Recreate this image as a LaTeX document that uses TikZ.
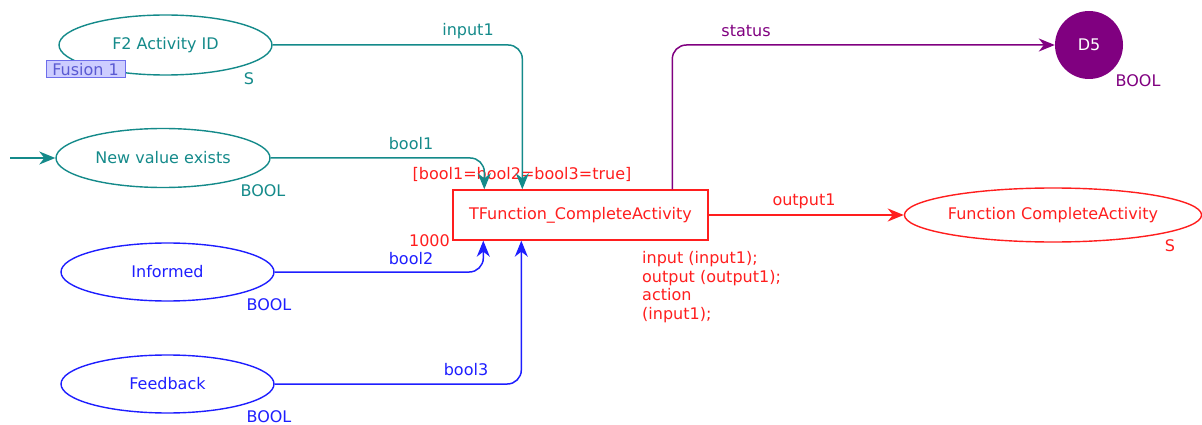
\documentclass[tikz,border=0pt]{standalone}
\usepackage{fontspec}
\setmainfont{DejaVu Sans}
\usetikzlibrary{shapes.geometric,arrows.meta,calc}
\definecolor{cteal}{RGB}{20,138,138}
\definecolor{cblue}{RGB}{30,30,255}
\definecolor{cred}{RGB}{255,30,30}
\definecolor{cpurp}{RGB}{128,0,128}
\definecolor{fusfill}{RGB}{205,205,255}
\definecolor{fusdraw}{RGB}{110,110,235}
\definecolor{fustext}{RGB}{90,90,210}
\begin{document}
\begin{tikzpicture}[x=1pt,y=-1pt,
  place/.style={ellipse,draw,line width=1.4pt,inner sep=0pt,font=\fontsize{16}{19}\selectfont},
  lbl/.style={inner sep=0pt,font=\fontsize{16}{19}\selectfont},
  arc/.style={line width=1.5pt,rounded corners=14pt,-{Stealth[length=16pt,width=13pt,inset=5pt]}},
  plain/.style={line width=1.5pt,rounded corners=14pt}]
\useasboundingbox (0,0) rectangle (1202,425);
% places
\node[place,cteal,minimum width=213pt,minimum height=60pt] (f2) at (165.5,45) {F2 Activity ID};
\node[draw=fusdraw,fill=fusfill,line width=1pt,inner xsep=2pt,inner ysep=0pt,minimum width=79pt,minimum height=17pt,text=fustext,font=\fontsize{16}{19}\selectfont] (fus) at (85.5,69.5) {Fusion 1};
\node[lbl,cteal] (f2t) at (249,79) {S};
\node[place,cteal,minimum width=214pt,minimum height=59pt] (nv) at (163,158) {New value exists};
\node[lbl,cteal] (nvt) at (263,191) {BOOL};
\node[place,cblue,minimum width=213pt,minimum height=58pt] (inf) at (167.5,272) {Informed};
\node[lbl,cblue] (inft) at (269,305) {BOOL};
\node[place,cblue,minimum width=213pt,minimum height=58pt] (fb) at (167.5,384) {Feedback};
\node[lbl,cblue] (fbt) at (269,416.5) {BOOL};
\node[place,cred,minimum width=297pt,minimum height=54pt] (fc) at (1053,215) {Function CompleteActivity};
\node[lbl,cred] (fct) at (1170,246) {S};
\node[circle,fill=cpurp,minimum size=68pt,inner sep=0pt,text=white,font=\fontsize{16}{19}\selectfont] (d5) at (1089,45) {D5};
\node[lbl,cpurp] (d5t) at (1138,81) {BOOL};
% transition
\node[draw=cred,line width=1.4pt,fill=white,minimum width=255pt,minimum height=50pt,inner sep=0pt,text=cred,font=\fontsize{16}{19}\selectfont] (t) at (580.5,215) {TFunction\_CompleteActivity};
\node[lbl,cred] (guard) at (522,174) {[bool1=bool2=bool3=true]};
\node[lbl,cred,anchor=east] (prio) at (450,241) {1000};
\node[lbl,cred,anchor=north west,align=left,font=\fontsize{16}{18.7}\selectfont] (code) at (642,251) {input (input1);\\output (output1);\\action\\(input1);};
% arcs
\coordinate (src) at (10,158);
\draw[arc,cteal] (src) -- (nv.west);
\draw[arc,cteal] (f2.east) -| ($(t.north west)+(70,0)$);
\node[lbl,cteal] (l1) at (468,31) {input1};
\draw[arc,cteal] (nv.east) -| ($(t.north west)+(32,0)$);
\node[lbl,cteal] (l2) at (411,144) {bool1};
\draw[arc,cblue] (inf.east) -| ($(t.south west)+(31,0)$);
\node[lbl,cblue] (l3) at (411,259) {bool2};
\draw[arc,cblue] (fb.east) -| ($(t.south west)+(69,0)$);
\node[lbl,cblue] (l4) at (466,370) {bool3};
\draw[arc,cred] (t.east) -- (fc.west);
\node[lbl,cred] (l5) at (804,201) {output1};
\draw[arc,cpurp] ($(t.north west)+(220,0)$) |- (d5.west);
\node[lbl,cpurp] (l6) at (746,31) {status};
\end{tikzpicture}
\end{document}
